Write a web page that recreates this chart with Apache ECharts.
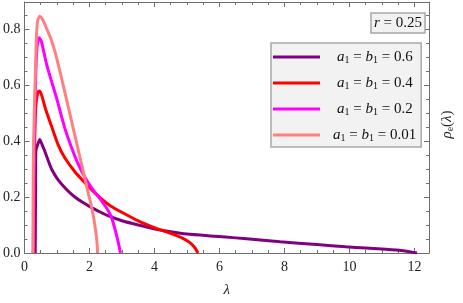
<!DOCTYPE html>
<html>
<head>
<meta charset="utf-8">
<script src="https://cdn.jsdelivr.net/npm/echarts@6/dist/echarts.min.js"></script>
<style>
html,body{margin:0;padding:0;background:#fff;}
#chart{width:463px;height:303px;}
</style>
</head>
<body>
<div id="chart"></div>
<script>
// ---- data ----
const seriesNames = ['0.6', '0.4', '0.2', '0.01'];
const seriesColors = ['#800080', '#ff0000', '#ff00ff', '#ff8080'];

const curve06 = [[0.33,0],[0.34,0.2],[0.35,0.365],[0.40,0.385],[0.47,0.405],[0.54,0.387],[0.62,0.365],[0.72,0.333],[0.84,0.298],[1.04,0.26],[1.3,0.226],[1.55,0.2],[1.8,0.18],[2.05,0.163],[2.3,0.148],[2.55,0.134],[3.0,0.115],[3.5,0.1],[4.06,0.085],[4.5,0.076],[5.0,0.068],[5.86,0.06],[6.5,0.054],[7.0,0.049],[7.87,0.04],[9.0,0.03],[9.88,0.022],[10.5,0.018],[11.0,0.014],[11.6,0.009],[11.9,0.004],[12.08,0]];
const curve04 = [[0.28,0],[0.30,0.3],[0.33,0.48],[0.37,0.55],[0.42,0.575],[0.47,0.578],[0.55,0.555],[0.64,0.517],[0.84,0.45],[1.04,0.385],[1.24,0.34],[1.55,0.29],[1.8,0.258],[2.05,0.228],[2.35,0.195],[2.65,0.168],[3.05,0.142],[3.5,0.115],[4.06,0.088],[4.5,0.07],[4.86,0.053],[5.1,0.036],[5.25,0.018],[5.31,0.006],[5.34,0]];
const curve02 = [[0.27,0],[0.30,0.4],[0.35,0.65],[0.39,0.74],[0.45,0.768],[0.52,0.755],[0.69,0.669],[0.99,0.552],[1.24,0.446],[1.45,0.376],[1.65,0.318],[1.85,0.272],[2.05,0.235],[2.35,0.19],[2.5,0.165],[2.65,0.135],[2.75,0.1],[2.84,0.06],[2.91,0.025],[2.95,0]];
const curve001 = [[0.26,0],[0.27,0.3],[0.30,0.5],[0.34,0.66],[0.37,0.78],[0.41,0.832],[0.47,0.845],[0.55,0.835],[0.65,0.81],[0.8,0.768],[0.94,0.718],[1.07,0.658],[1.2,0.595],[1.45,0.47],[1.7,0.345],[1.95,0.22],[2.05,0.172],[2.13,0.125],[2.19,0.08],[2.23,0.04],[2.25,0]];
const curves = [curve06, curve04, curve02, curve001];

const xMin = 0, xMax = 12.45, xStep = 2;
const yMin = 0, yMax = 0.896, yStep = 0.2;

// ---- chart ----
const chart = echarts.init(document.getElementById('chart'), null, {renderer: 'canvas'});
const serif = 'Liberation Serif';
const frameColor = '#6e6e6e';

function axisBase(pos, showLabels) {
  return {
    type: 'value',
    position: pos,
    axisLine: {show: true, onZero: false, lineStyle: {color: frameColor, width: 1}},
    axisTick: {show: true, inside: true, length: 5, lineStyle: {color: frameColor}},
    minorTick: {show: true, splitNumber: 4, length: 3, lineStyle: {color: frameColor}},
    splitLine: {show: false},
    minorSplitLine: {show: false},
    axisLabel: {show: showLabels, showMaxLabel: false, color: '#222', fontFamily: serif, fontSize: 14}
  };
}

const xBottom = Object.assign(axisBase('bottom', true), {
  min: xMin, max: xMax, interval: xStep,
  name: 'λ', nameLocation: 'middle', nameGap: 30,
  nameTextStyle: {fontFamily: serif, fontSize: 15, fontStyle: 'italic', color: '#222'}
});
xBottom.axisLabel.margin = 7;
xBottom.axisLabel.formatter = v => String(Math.round(v));
const xTop = Object.assign(axisBase('top', false), {min: xMin, max: xMax, interval: xStep});

const yLeft = Object.assign(axisBase('left', true), {min: yMin, max: yMax, interval: yStep});
yLeft.axisLabel.margin = 4;
yLeft.axisLabel.formatter = v => v.toFixed(1);
const yRight = Object.assign(axisBase('right', false), {
  min: yMin, max: yMax, interval: yStep,
  name: '{i|ρ}{s|e}{n|(}{i|λ}{n|)}', nameLocation: 'middle', nameGap: 11, nameRotate: 90,
  nameTextStyle: {
    fontFamily: serif, fontSize: 15, color: '#222', padding: [0, 0, 0, 6],
    rich: {
      i: {fontFamily: serif, fontSize: 15, fontStyle: 'italic', color: '#222'},
      n: {fontFamily: serif, fontSize: 15, color: '#222'},
      s: {fontFamily: serif, fontSize: 10, color: '#222', verticalAlign: 'bottom', padding: [4, 0, 0, 0]}
    }
  }
});

const legendRich = {
  i: {fontFamily: serif, fontSize: 15, fontStyle: 'italic', color: '#111', lineHeight: 16},
  s: {fontFamily: serif, fontSize: 10, color: '#111', verticalAlign: 'bottom', padding: [5, 0, 0, 0]},
  e: {fontFamily: serif, fontSize: 15, color: '#111', lineHeight: 16},
  n: {fontFamily: serif, fontSize: 15, color: '#111', lineHeight: 16}
};

chart.setOption({
  animation: false,
  backgroundColor: '#ffffff',
  grid: {left: 22, right: 27, top: 2, bottom: 46, containLabel: false},
  xAxis: [xBottom, xTop],
  yAxis: [yLeft, yRight],
  title: {
    text: '{i|r}{e| = }{n|0.25}',
    left: 371, top: 13,
    padding: [3, 3, 2, 3],
    backgroundColor: '#f2f2f2',
    borderColor: '#a8a8a8', borderWidth: 1.5,
    textStyle: {fontFamily: serif, fontSize: 15, fontWeight: 'normal', color: '#111', rich: {
      i: {fontFamily: serif, fontSize: 15, fontStyle: 'italic', color: '#111'},
      e: {fontFamily: serif, fontSize: 15, color: '#111'},
      n: {fontFamily: serif, fontSize: 15, color: '#111'}
    }}
  },
  legend: {
    orient: 'vertical',
    left: 271, top: 43,
    padding: [6, 5, 4, 2],
    itemGap: 10,
    itemWidth: 47, itemHeight: 3,
    icon: 'rect',
    backgroundColor: '#f2f2f2',
    borderColor: '#a8a8a8', borderWidth: 1.5,
    data: seriesNames.map(n => ({name: n, textStyle: {padding: [0, 0, 0, n === '0.01' ? 8 : 12]}})),
    formatter: n => '{i|a}{s|1}{e| = }{i|b}{s|1}{e| = }{n|' + n + '}',
    textStyle: {fontFamily: serif, fontSize: 15, color: '#111', lineHeight: 16, rich: legendRich}
  },
  series: curves.map((c, k) => ({
    name: seriesNames[k],
    type: 'line',
    xAxisIndex: 0, yAxisIndex: 0,
    data: c,
    showSymbol: false,
    symbol: 'none',
    smooth: 0.2,
    lineStyle: {color: seriesColors[k], width: 3},
    itemStyle: {color: seriesColors[k]},
    clip: true,
    z: 2 + k
  }))
});
</script>
</body>
</html>
